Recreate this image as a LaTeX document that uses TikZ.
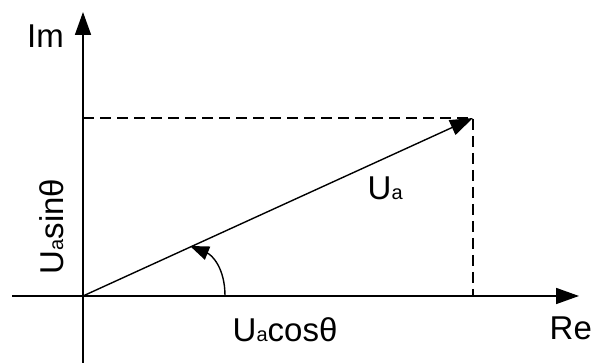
\documentclass[tikz,border=0pt]{standalone}
\usepackage{fontspec}
\setmainfont{Liberation Sans}
\usetikzlibrary{arrows.meta}
\begin{document}
\begin{tikzpicture}[x=1pt,y=1pt,
  axis/.style={line width=1.7pt,-{Triangle[length=23pt,width=16pt]}},
  vec/.style={line width=1.4pt,-{Triangle[length=23pt,width=16pt]}},
  proj/.style={line width=1.3pt,dash pattern=on 11pt off 6pt},
  anglearc/.style={line width=1.4pt,-{Triangle[length=19pt,width=14pt]}},
  lbl/.style={inner sep=0pt,font=\fontsize{33}{36}\selectfont},
  ]
\newcommand{\subA}{{\fontsize{20}{22}\selectfont a}}
\useasboundingbox (0,0) rectangle (595,363);
\coordinate (O) at (83,67);
\coordinate (Xs) at (12,67);
\coordinate (Xe) at (579,67);
\coordinate (Ys) at (83,0);
\coordinate (Ye) at (83,351);
\coordinate (P) at (473,245);
\coordinate (Px) at (473,67);
\coordinate (Py) at (83,245);
\coordinate (A0) at (225,67);
\coordinate (A1) at (190,117);
\draw[axis] (Xs) -- (Xe);
\draw[axis] (Ys) -- (Ye);
\draw[proj] (Py) -- (P) -- (Px);
\draw[vec] (O) -- (P);
\draw[anglearc] (A0) .. controls (225,95) and (212,108) .. (A1);
\node[lbl,anchor=base west] (im) at (27,315) {Im};
\node[lbl,anchor=base west] (re) at (549.5,23) {Re};
\node[lbl,anchor=base west] (ua) at (367.5,163) {U\subA};
\node[lbl,anchor=base west] (ucos) at (232.5,21) {U\subA cosθ};
\node[lbl,anchor=base west,rotate=90] (usin) at (63,88.5) {U\subA sinθ};
\end{tikzpicture}
\end{document}
